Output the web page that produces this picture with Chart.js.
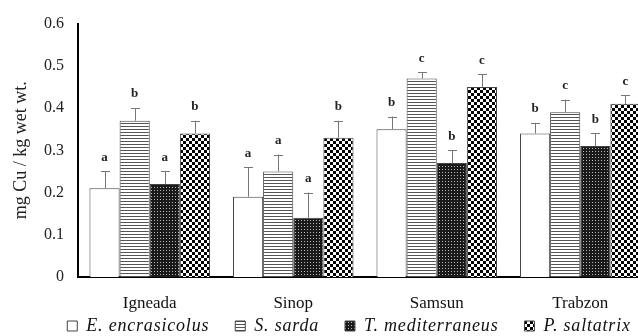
<!DOCTYPE html>
<html><head><meta charset="utf-8">
<script src="https://cdn.jsdelivr.net/npm/chart.js@4/dist/chart.umd.min.js"></script>
<style>html,body{margin:0;padding:0;overflow:hidden;background:#fff}#w{width:652px;height:336px;position:relative}</style>
</head><body><div id="w"><canvas id="c"></canvas></div>
<script>
const categories = ['Igneada', 'Sinop', 'Samsun', 'Trabzon'];
const seriesNames = ['E. encrasicolus', 'S. sarda', 'T. mediterraneus', 'P. saltatrix'];
const eEncrasicolus = [0.21, 0.19, 0.35, 0.34];
const sSarda = [0.37, 0.25, 0.47, 0.39];
const tMediterraneus = [0.22, 0.14, 0.27, 0.31];
const pSaltatrix = [0.34, 0.33, 0.45, 0.41];
const errE = [0.04, 0.07, 0.03, 0.025];
const errS = [0.03, 0.04, 0.015, 0.03];
const errT = [0.03, 0.06, 0.03, 0.03];
const errP = [0.03, 0.04, 0.03, 0.02];
const letE = ['a', 'a', 'b', 'b'];
const letS = ['b', 'a', 'c', 'c'];
const letT = ['a', 'a', 'b', 'b'];
const letP = ['b', 'b', 'c', 'c'];
const yTicks = [0, 0.1, 0.2, 0.3, 0.4, 0.5, 0.6];
const yTickLabels = ['0', '0.1', '0.2', '0.3', '0.4', '0.5', '0.6'];
const yTitle = 'mg Cu / kg wet wt.';

function makePattern(w, h, draw) {
  const c = document.createElement('canvas');
  c.width = w; c.height = h;
  const x = c.getContext('2d');
  x.fillStyle = '#fff'; x.fillRect(0, 0, w, h);
  draw(x);
  return x.createPattern(c, 'repeat');
}
const white = '#ffffff';
const stripes = makePattern(1, 3, x => { x.fillStyle = '#555'; x.fillRect(0, 0, 1, 1); });
const dots = makePattern(3, 3, x => { x.fillStyle = '#1a1a1a'; x.fillRect(0, 0, 3, 3); x.fillStyle = '#bbb'; x.fillRect(1, 1, 1, 1); });
const checker = makePattern(6, 6, x => { x.fillStyle = '#000'; x.fillRect(0, 0, 3, 3); x.fillRect(3, 3, 3, 3); });

const values = [eEncrasicolus, sSarda, tMediterraneus, pSaltatrix];
const errors = [errE, errS, errT, errP];
const letters = [letE, letS, letT, letP];
const fills = [white, stripes, dots, checker];

const errPlugin = {
  id: 'errbars',
  afterDatasetsDraw(chart) {
    const ctx = chart.ctx, ys = chart.scales.y;
    ctx.save();
    chart.data.datasets.forEach((ds, i) => {
      const meta = chart.getDatasetMeta(i);
      meta.data.forEach((bar, j) => {
        const top = ys.getPixelForValue(values[i][j] + errors[i][j]);
        ctx.strokeStyle = '#777'; ctx.lineWidth = 1;
        ctx.beginPath();
        ctx.moveTo(Math.round(bar.x) + 0.5, bar.y);
        ctx.lineTo(Math.round(bar.x) + 0.5, top);
        ctx.moveTo(Math.round(bar.x) - 4, Math.round(top) + 0.5);
        ctx.lineTo(Math.round(bar.x) + 5, Math.round(top) + 0.5);
        ctx.stroke();
        ctx.fillStyle = '#222';
        ctx.font = 'bold 13px "Liberation Serif"';
        ctx.textAlign = 'center'; ctx.textBaseline = 'middle';
        ctx.fillText(letters[i][j], bar.x, top - 14);
      });
    });
    ctx.restore();
  }
};

// legend text spacing / placement
const legendTweak = {
  id: 'legendTweak',
  beforeLayout(chart) {
    const lg = chart.legend;
    if (!lg || lg._tw) return;
    lg._tw = true;
    const f = lg.fit.bind(lg), d = lg.draw.bind(lg);
    lg.fit = function () {
      const c = chart.ctx; const o = c.letterSpacing;
      c.letterSpacing = '0.8px'; f(); c.letterSpacing = o || '0px';
      this.height = 23;
    };
    lg.draw = function () {
      const c = chart.ctx; const t = this.top;
      this.top = t - 22;
      c.save(); c.letterSpacing = '0.8px'; c.translate(23, 0); d(); c.restore();
      this.top = t;
    };
  }
};

new Chart(document.getElementById('c'), {
  type: 'bar',
  data: {
    labels: categories,
    datasets: seriesNames.map((n, i) => ({
      label: n,
      data: values[i],
      backgroundColor: fills[i],
      borderColor: '#444',
      borderWidth: 1,
      barPercentage: 1,
      categoryPercentage: 0.84
    }))
  },
  options: {
    responsive: true,
    maintainAspectRatio: false,
    animation: false,
    layout: { padding: { left: 0, right: 0, top: 13, bottom: 0 } },
    plugins: {
      tooltip: { enabled: false },
      legend: {
        position: 'bottom',
        labels: {
          font: { family: '"Liberation Serif"', size: 18, style: 'italic' },
          color: '#111',
          boxWidth: 10, boxHeight: 10,
          padding: 26
        }
      }
    },
    scales: {
      x: {
        grid: { display: false, drawTicks: false },
        border: { display: true, color: '#000', width: 2 },
        ticks: { font: { family: '"Liberation Serif"', size: 17 }, color: '#111', padding: 16 },
        afterFit(s) { s.height = 36; }
      },
      y: {
        min: 0, max: 0.6,
        grid: { display: false, drawTicks: false },
        border: { display: true, color: '#000', width: 2 },
        afterBuildTicks(s) { s.ticks = yTicks.map(v => ({ value: v })); },
        ticks: {
          font: { family: '"Liberation Serif"', size: 16 }, color: '#222', padding: 14,
          callback(v, i) { return yTickLabels[i]; }
        },
        title: { display: true, text: yTitle, font: { family: '"Liberation Serif"', size: 18 }, color: '#222', padding: { top: 10, bottom: 0 } },
        afterFit(s) { s.width = 78; }
      }
    }
  },
  plugins: [errPlugin, legendTweak]
});
</script>
</body></html>
